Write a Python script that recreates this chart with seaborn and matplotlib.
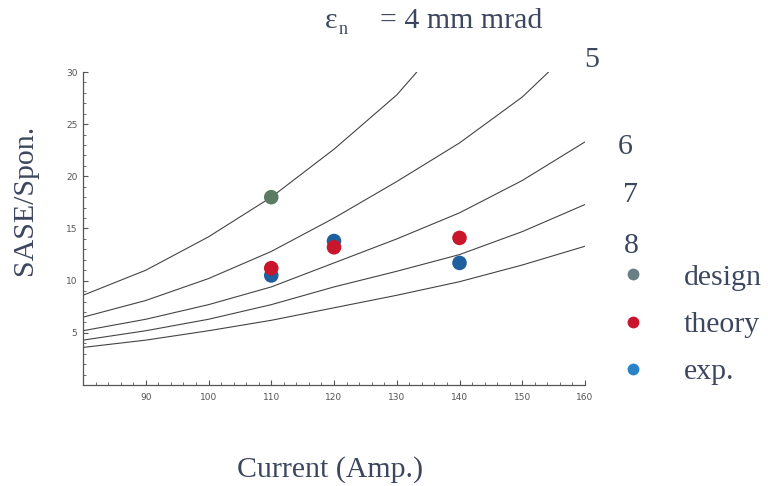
import numpy as np
import pandas as pd
import matplotlib
matplotlib.use("Agg")
import matplotlib.pyplot as plt
from matplotlib.lines import Line2D
from matplotlib.ticker import MultipleLocator
import seaborn as sns

sns.set_style("ticks")
plt.rcParams['font.family'] = ['DejaVu Sans']

# кривые SASE/Spon. для разных эмиттансов
x_4 = [80, 90, 100, 110, 120, 130, 133.2]
y_4 = [8.6, 11.0, 14.2, 18.0, 22.6, 27.8, 30.0]
x_5 = [80, 90, 100, 110, 120, 130, 140, 150, 154.2]
y_5 = [6.5, 8.1, 10.2, 12.8, 16.0, 19.5, 23.2, 27.6, 30.0]
x_6 = [80, 90, 100, 110, 120, 130, 140, 150, 160]
y_6 = [5.2, 6.3, 7.7, 9.4, 11.7, 14.0, 16.5, 19.6, 23.3]
x_7 = [80, 90, 100, 110, 120, 130, 140, 150, 160]
y_7 = [4.3, 5.2, 6.3, 7.7, 9.4, 10.9, 12.5, 14.7, 17.3]
x_8 = [80, 90, 100, 110, 120, 130, 140, 150, 160]
y_8 = [3.6, 4.3, 5.2, 6.2, 7.4, 8.6, 9.9, 11.5, 13.3]

# точки
design_x = [110]
design_y = [18.0]
theory_x = [110, 120, 140]
theory_y = [11.2, 13.2, 14.1]
exp_x = [110, 120, 140]
exp_y = [10.5, 13.8, 11.7]

curve_labels = ['5', '6', '7', '8']
legend_labels = ['design', 'theory', 'exp.']

TXT = '#3c475f'
SERIF = 'Liberation Serif'
FS = 21.5

curves = pd.concat([
    pd.DataFrame({'I': x, 'ratio': y, 'eps': e})
    for x, y, e in [(x_4, y_4, 4), (x_5, y_5, 5), (x_6, y_6, 6), (x_7, y_7, 7), (x_8, y_8, 8)]
], ignore_index=True)

W, H = 768, 486
fig = plt.figure(figsize=(W / 100, H / 100), dpi=100)
ax = fig.add_axes([83 / W, 1 - 385 / H, (585 - 83) / W, (385 - 72) / H])

sns.lineplot(data=curves, x='I', y='ratio', units='eps', estimator=None,
             color='#444444', linewidth=0.8, ax=ax, sort=False)

sns.scatterplot(x=exp_x, y=exp_y, color='#1f5f9e', s=110, edgecolor='none', ax=ax, zorder=3)
sns.scatterplot(x=theory_x, y=theory_y, color='#c8162a', s=110, edgecolor='none', ax=ax, zorder=4)
sns.scatterplot(x=design_x, y=design_y, color='#5b7b63', s=110, edgecolor='none', ax=ax, zorder=4)

ax.set_xlim(80, 160)
ax.set_ylim(0, 30)
ax.set_xticks([90, 100, 110, 120, 130, 140, 150, 160])
ax.set_yticks([5, 10, 15, 20, 25, 30])
ax.xaxis.set_minor_locator(MultipleLocator(2))
ax.yaxis.set_minor_locator(MultipleLocator(1))
ax.tick_params(which='major', direction='in', length=3.5, width=0.8, color='#555555',
               labelsize=6.5, labelcolor='#555555')
ax.tick_params(which='minor', direction='in', length=2, width=0.6, color='#555555')
ax.tick_params(axis='x', pad=6)
ax.tick_params(axis='y', pad=4)
for s in ['left', 'bottom']:
    ax.spines[s].set_color('#555555')
    ax.spines[s].set_linewidth(0.9)
sns.despine(ax=ax)
ax.set_xlabel('')
ax.set_ylabel('')
ax.patch.set_alpha(0)


def px(x, y):
    return x / W, 1 - y / H


fig.text(*px(25, 200), 'SASE/Spon.', rotation=90, ha='center', va='center',
         family=SERIF, fontsize=FS, color=TXT)
fig.text(*px(330, 477), 'Current (Amp.)', ha='center', va='baseline',
         family=SERIF, fontsize=FS, color=TXT)

fig.text(*px(325, 28), 'ε', ha='left', va='baseline', family=SERIF, fontsize=FS, color=TXT)
fig.text(*px(339, 34), 'n', ha='left', va='baseline', family=SERIF, fontsize=13, color=TXT)
fig.text(*px(380, 28), '= 4 mm mrad', ha='left', va='baseline', family=SERIF, fontsize=FS, color=TXT)

for lab, (lx, ly) in zip(curve_labels, [(584, 67), (618, 154), (623, 202), (624, 253)]):
    fig.text(*px(lx, ly), lab, ha='left', va='baseline', family=SERIF, fontsize=FS, color=TXT)

handles = [Line2D([], [], marker='o', linestyle='none', markersize=8.5, color=c, markeredgecolor='none')
           for c in ['#687f86', '#c8142c', '#2a82c8']]
fig.legend(handles, legend_labels, loc='upper left', bbox_to_anchor=px(603, 249),
           frameon=False, handletextpad=1.2, labelspacing=0.68, borderpad=0,
           prop={'family': SERIF, 'size': FS}, labelcolor=TXT, handlelength=1.0)

fig.savefig('out.png', dpi=100)
